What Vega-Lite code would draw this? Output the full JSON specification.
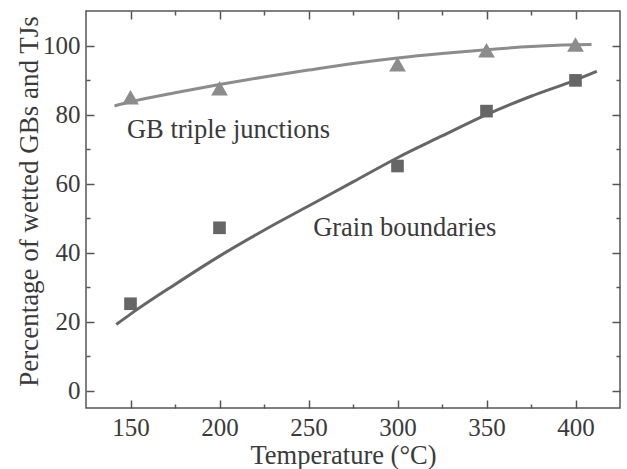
{
  "$schema": "https://vega.github.io/schema/vega-lite/v6.json",
  "width": 534,
  "height": 397,
  "autosize": "none",
  "padding": {"left": 86, "top": 11, "right": 7, "bottom": 61},
  "background": "white",
  "config": {
    "view": {"stroke": "#555555", "strokeWidth": 1.5},
    "font": "Liberation Serif",
    "axis": {
      "domain": false,
      "grid": false,
      "labelFont": "Liberation Serif",
      "labelFontSize": 25,
      "labelColor": "#3a3a3a",
      "titleFont": "Liberation Serif",
      "titleFontSize": 26.5,
      "titleFontWeight": "normal",
      "titleColor": "#3a3a3a",
      "tickColor": "#555555",
      "tickWidth": 1.5
    }
  },
  "datasets": {
    "curves": [
      {"t": 141, "p": 82.5, "series": "TJ"},
      {"t": 150, "p": 83.7, "series": "TJ"},
      {"t": 175, "p": 86.3, "series": "TJ"},
      {"t": 200, "p": 88.7, "series": "TJ"},
      {"t": 225, "p": 90.9, "series": "TJ"},
      {"t": 250, "p": 92.9, "series": "TJ"},
      {"t": 275, "p": 94.8, "series": "TJ"},
      {"t": 300, "p": 96.4, "series": "TJ"},
      {"t": 325, "p": 97.7, "series": "TJ"},
      {"t": 350, "p": 98.8, "series": "TJ"},
      {"t": 375, "p": 99.7, "series": "TJ"},
      {"t": 400, "p": 100.2, "series": "TJ"},
      {"t": 409, "p": 100.3, "series": "TJ"},
      {"t": 142, "p": 19.2, "series": "GB"},
      {"t": 150, "p": 22.2, "series": "GB"},
      {"t": 175, "p": 30.8, "series": "GB"},
      {"t": 200, "p": 39.0, "series": "GB"},
      {"t": 225, "p": 46.5, "series": "GB"},
      {"t": 250, "p": 53.5, "series": "GB"},
      {"t": 275, "p": 60.5, "series": "GB"},
      {"t": 300, "p": 67.5, "series": "GB"},
      {"t": 325, "p": 73.8, "series": "GB"},
      {"t": 350, "p": 80.0, "series": "GB"},
      {"t": 375, "p": 85.3, "series": "GB"},
      {"t": 400, "p": 90.0, "series": "GB"},
      {"t": 412, "p": 92.5, "series": "GB"}
    ],
    "points": [
      {"t": 150, "p": 85.0, "series": "TJ"},
      {"t": 200, "p": 87.6, "series": "TJ"},
      {"t": 300, "p": 94.6, "series": "TJ"},
      {"t": 350, "p": 98.6, "series": "TJ"},
      {"t": 400, "p": 100.3, "series": "TJ"},
      {"t": 150, "p": 25.2, "series": "GB"},
      {"t": 200, "p": 47.2, "series": "GB"},
      {"t": 300, "p": 65.1, "series": "GB"},
      {"t": 350, "p": 81.0, "series": "GB"},
      {"t": 400, "p": 89.9, "series": "GB"}
    ],
    "labels": [
      {"t": 148, "p": 75.5, "text": "GB triple junctions"},
      {"t": 252.6, "p": 47.2, "text": "Grain boundaries"}
    ]
  },
  "layer": [
    {
      "data": {"name": "curves"},
      "mark": {"type": "line", "strokeWidth": 3, "interpolate": "monotone"},
      "encoding": {
        "x": {
          "field": "t", "type": "quantitative",
          "scale": {"domain": [125, 425], "nice": false, "zero": false},
          "axis": {
            "orient": "bottom",
            "values": [150, 175, 200, 225, 250, 275, 300, 325, 350, 375, 400],
            "labelExpr": "datum.value % 50 === 0 ? datum.label : ''",
            "tickSize": {"condition": {"test": "datum.value % 50 === 0", "value": -8}, "value": -4},
            "labelPadding": 15,
            "title": "Temperature (°C)",
            "titleX": 257,
            "titleY": 47,
            "titleBaseline": "middle",
            "titleAlign": "center"
          }
        },
        "y": {
          "field": "p", "type": "quantitative",
          "scale": {"domain": [-5, 110], "nice": false, "zero": false},
          "axis": {
            "orient": "left",
            "values": [0, 10, 20, 30, 40, 50, 60, 70, 80, 90, 100],
            "labelExpr": "datum.value % 20 === 0 ? datum.label : ''",
            "tickSize": {"condition": {"test": "datum.value % 20 === 0", "value": -8}, "value": -4},
            "labelPadding": 14,
            "title": "Percentage of wetted GBs and TJs",
            "titleFontSize": 27,
            "titleX": -57,
            "titleY": 190,
            "titleAngle": -90,
            "titleBaseline": "middle",
            "titleAlign": "center"
          }
        },
        "color": {
          "field": "series", "type": "nominal",
          "scale": {"domain": ["TJ", "GB"], "range": ["#8c8c8c", "#666666"]},
          "legend": null
        }
      }
    },
    {
      "data": {"name": "points"},
      "mark": {"type": "point", "filled": true, "opacity": 1},
      "encoding": {
        "x": {
          "field": "t", "type": "quantitative",
          "axis": {
            "orient": "top",
            "values": [150, 175, 200, 225, 250, 275, 300, 325, 350, 375, 400],
            "labels": false,
            "title": null,
            "tickSize": {"condition": {"test": "datum.value % 50 === 0", "value": -8}, "value": -4}
          }
        },
        "y": {
          "field": "p", "type": "quantitative",
          "axis": {
            "orient": "right",
            "values": [0, 10, 20, 30, 40, 50, 60, 70, 80, 90, 100],
            "labels": false,
            "title": null,
            "tickSize": {"condition": {"test": "datum.value % 20 === 0", "value": -8}, "value": -4}
          }
        },
        "color": {"field": "series", "type": "nominal", "legend": null},
        "shape": {
          "field": "series", "type": "nominal",
          "scale": {"domain": ["TJ", "GB"], "range": ["triangle-up", "square"]},
          "legend": null
        },
        "size": {
          "field": "series", "type": "nominal",
          "scale": {"domain": ["TJ", "GB"], "range": [280, 160]},
          "legend": null
        }
      }
    },
    {
      "data": {"name": "labels"},
      "mark": {"type": "text", "align": "left", "baseline": "middle", "fontSize": 26.5, "font": "Liberation Serif", "color": "#3a3a3a"},
      "encoding": {
        "x": {"field": "t", "type": "quantitative", "axis": null},
        "y": {"field": "p", "type": "quantitative", "axis": null},
        "text": {"field": "text"}
      }
    }
  ],
  "resolve": {"axis": {"x": "independent", "y": "independent"}}
}
